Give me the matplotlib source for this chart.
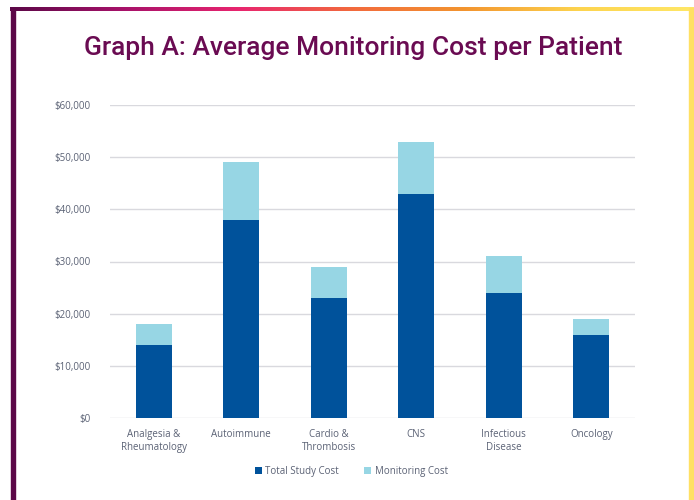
import numpy as np
import matplotlib.pyplot as plt
from matplotlib.colors import LinearSegmentedColormap
from matplotlib.patches import Rectangle
from matplotlib.ticker import FuncFormatter

categories = ["Analgesia &\nRheumatology", "Autoimmune", "Cardio &\nThrombosis",
              "CNS", "Infectious\nDisease", "Oncology"]
total_study = [14000, 38000, 23000, 43000, 24000, 16000]
monitoring = [4000, 11000, 6000, 10000, 7000, 3000]

dark_blue = "#00529b"
light_blue = "#97d6e4"
text_col = "#5b6275"

plt.rcParams['font.family'] = ['Open Sans', 'DejaVu Sans']

fig = plt.figure(figsize=(6.94, 5.0), dpi=100)

# frame: gradient top, purple left, yellow right
grad = LinearSegmentedColormap.from_list(
    "frame", ["#5c0848", "#a8126a", "#e8256f", "#f26a3d", "#f3952f", "#fdd44f", "#ffe767"])
top = fig.add_axes([10 / 694, 1 - 11 / 500, 684 / 694, 4 / 500])
top.imshow(np.linspace(0, 1, 256)[None, :], aspect="auto", cmap=grad)
top.axis("off")
fig.patches.append(Rectangle((11 / 694, 0), 4 / 694, 1 - 8 / 500, transform=fig.transFigure,
                             color="#5c0848", zorder=5))
fig.patches.append(Rectangle((689 / 694, 0), 4 / 694, 1 - 8 / 500, transform=fig.transFigure,
                             color="#ffe063", zorder=5))

fig.text(353 / 694, 1 - 48 / 500, "Graph A: Average Monitoring Cost per Patient",
         ha="center", va="center", fontsize=19, fontweight="medium", color="#6a0b52",
         family=["Roboto", "DejaVu Sans"])

ax = fig.add_axes([110 / 694, 1 - 418 / 500, 525 / 694, 313 / 500])
x = np.arange(len(categories))
ax.bar(x, total_study, width=0.41, color=dark_blue, label="Total Study Cost", zorder=3)
ax.bar(x, monitoring, width=0.41, bottom=total_study, color=light_blue,
       label="Monitoring Cost", zorder=3)

ax.set_xlim(-0.5, len(categories) - 0.5)
ax.set_ylim(0, 60000)
ax.set_yticks(range(0, 60001, 10000))
ax.yaxis.set_major_formatter(FuncFormatter(lambda v, p: f"${v:,.0f}"))
ax.set_xticks(x)
ax.set_xticklabels(categories)
ax.grid(axis="y", color="#d9d9de", linewidth=1, zorder=0)
for s in ax.spines.values():
    s.set_visible(False)
ax.tick_params(length=0, labelsize=7, labelcolor=text_col)
ax.tick_params(axis="y", pad=14)
ax.tick_params(axis="x", pad=8)

ax.legend(loc="upper center", bbox_to_anchor=(0.46, -0.125), ncol=2, frameon=False,
          fontsize=7, labelcolor=text_col, handlelength=0.7, handleheight=0.7,
          handletextpad=0.4, columnspacing=2.6)

fig.savefig("out.png", dpi=100)
